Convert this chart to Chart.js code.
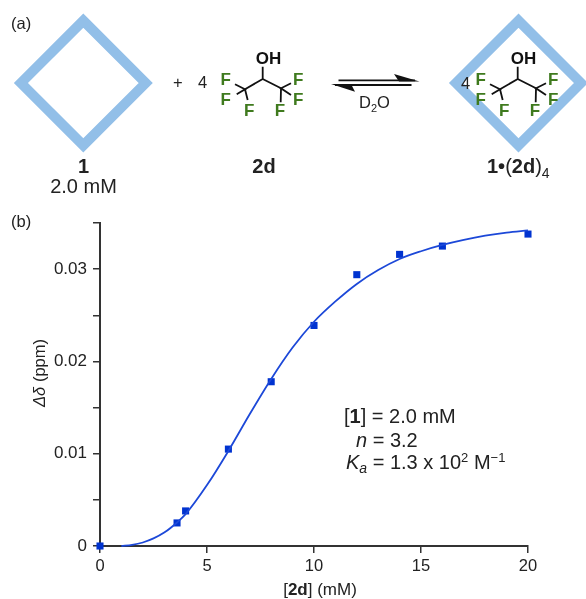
<!DOCTYPE html>
<html>
<head>
<meta charset="utf-8">
<title>Titration of 1 with 2d</title>
<script src="https://cdn.jsdelivr.net/npm/chart.js@4/dist/chart.umd.min.js"></script>
<style>
  html, body { margin: 0; padding: 0; background: #fff; }
  #wrap { position: relative; width: 586px; height: 599px; overflow: hidden; }
  #titration { position: absolute; left: 0; top: 0; }
  #scheme { position: absolute; left: 0; top: 0; pointer-events: none; }
  svg text { font-family: "Liberation Sans", Arial, sans-serif; font-size: 20px; fill: #222; }
  svg .small { font-size: 16.5px; }
  svg .b { font-weight: bold; }
  svg .i { font-style: italic; }
  svg .f { font-size: 17px; font-weight: bold; fill: #3f7a1e; text-anchor: middle; }
  svg .oh { font-size: 17px; font-weight: bold; fill: #111; text-anchor: middle; }
  svg .bond { stroke: #111; stroke-width: 1.8; fill: none; }
  svg .ring { stroke: #92bfe8; stroke-width: 10; fill: none; stroke-linejoin: miter; }
</style>
</head>
<body>
<div id="wrap">
  <canvas id="titration" width="586" height="599"></canvas>
  <svg id="scheme" width="586" height="599" viewBox="0 0 586 599">
    <defs>
      <g id="alcohol">
        <path class="bond" d="M262.7 66.7 V79 L245 89.3 M262.7 79 L281 88.3"/>
        <path class="bond" d="M235 84.3 L245 89.3 L236.7 94.3 M245 89.3 L247.7 100"/>
        <path class="bond" d="M291 83.3 L281 88.3 L291 95 M281 88.3 L280.7 102.3"/>
        <text class="oh" x="268.5" y="63.5">OH</text>
        <text class="f" x="225.7" y="84.5">F</text>
        <text class="f" x="225.7" y="105">F</text>
        <text class="f" x="249.3" y="115.5">F</text>
        <text class="f" x="298.3" y="84.5">F</text>
        <text class="f" x="298.3" y="105">F</text>
        <text class="f" x="280" y="115.5">F</text>
      </g>
    </defs>

    <text class="small" x="11" y="29">(a)</text>
    <polygon class="ring" points="83.3,20.6 145.7,83 83.3,145.4 20.9,83"/>
    <text class="small" x="173" y="88">+</text>
    <text class="small" x="198" y="88">4</text>
    <use href="#alcohol"/>

    <!-- equilibrium arrows -->
    <path class="bond" d="M338.5 80.3 H415"/>
    <polygon points="394,74 419.5,81.5 399,81.5" fill="#111"/>
    <path class="bond" d="M335 85 H411.5"/>
    <polygon points="331,84 351,84 355,91.7" fill="#111"/>
    <text class="small" x="359" y="108">D<tspan font-size="11" dy="4">2</tspan><tspan dy="-4">O</tspan></text>

    <polygon class="ring" points="518.5,20.6 581,83 518.5,145.4 456,83"/>
    <text class="small" x="461" y="89">4</text>
    <use href="#alcohol" x="255"/>

    <text class="b" x="83.5" y="173" text-anchor="middle">1</text>
    <text x="83.5" y="193" text-anchor="middle">2.0 mM</text>
    <text class="b" x="264" y="173" text-anchor="middle">2d</text>
    <text x="487" y="173"><tspan class="b">1•</tspan>(<tspan class="b">2d</tspan>)<tspan font-size="14" dy="5">4</tspan></text>

    <text class="small" x="11" y="227">(b)</text>

    <text x="344" y="423">[<tspan class="b">1</tspan>] = 2.0 mM</text>
    <text x="356" y="447"><tspan class="i">n</tspan> = 3.2</text>
    <text x="346" y="469"><tspan class="i">K</tspan><tspan class="i" font-size="14" dy="4">a</tspan><tspan dy="-4"> = 1.3 x 10</tspan><tspan font-size="13" dy="-7">2</tspan><tspan dy="7"> M</tspan><tspan font-size="13" dy="-7">−1</tspan></text>

    <text style="font-size:17px" x="320" y="595" text-anchor="middle">[<tspan class="b">2d</tspan>] (mM)</text>
    <text class="small" transform="translate(45 373) rotate(-90)" text-anchor="middle"><tspan class="i">Δδ</tspan> (ppm)</text>
  </svg>
</div>
<script>
// measured points
const concentration = [0, 3.6, 4, 6, 8, 10, 12, 14, 16, 20];
const shift = [0, 0.0025, 0.0038, 0.0105, 0.0178, 0.0239, 0.0294, 0.0316, 0.0325, 0.0338];

// fitted curve
const fitConcentration = [1, 1.5, 2, 2.5, 3, 3.6, 4, 5, 6, 7, 8, 9, 10, 11, 12, 13, 14, 15, 16, 17, 18, 19, 20];
const fitShift = [0, 0.00012, 0.00038, 0.00082, 0.00145, 0.00255, 0.00345, 0.0066, 0.0103, 0.0143, 0.0181, 0.0215, 0.0243, 0.0265, 0.0284, 0.0299, 0.0311, 0.03194, 0.03262, 0.03317, 0.03362, 0.03396, 0.0342];

const yTickLabels = ["0", "0.01", "0.02", "0.03"];

function toXY(xs, ys) {
  return xs.map((x, i) => ({ x: x, y: ys[i] }));
}

const axisColor = "#333";

new Chart(document.getElementById("titration").getContext("2d"), {
  type: "scatter",
  data: {
    datasets: [
      {
        label: "fit",
        data: toXY(fitConcentration, fitShift),
        showLine: true,
        cubicInterpolationMode: "monotone",
        borderColor: "#1c48d8",
        borderWidth: 1.8,
        pointRadius: 0,
        clip: false
      },
      {
        label: "1 + 2d",
        data: toXY(concentration, shift),
        showLine: false,
        pointStyle: "rect",
        pointRadius: 5,
        pointHoverRadius: 5,
        backgroundColor: "#0033d0",
        borderWidth: 0,
        clip: false
      }
    ]
  },
  options: {
    responsive: false,
    animation: false,
    layout: { padding: { left: 0, top: 223, right: 58, bottom: 0 } },
    plugins: {
      legend: { display: false },
      tooltip: { enabled: false }
    },
    scales: {
      x: {
        type: "linear",
        min: 0,
        max: 20,
        afterFit: function (scale) { scale.height = 53; },
        border: { color: axisColor, width: 2 },
        grid: { drawOnChartArea: false, color: axisColor, lineWidth: 1.5, tickLength: 7 },
        ticks: { stepSize: 5, color: "#222", font: { family: "'Liberation Sans', Arial, sans-serif", size: 16.5 }, padding: 4, maxRotation: 0 }
      },
      y: {
        type: "linear",
        min: 0,
        max: 0.035,
        afterFit: function (scale) { scale.width = 100; },
        border: { color: axisColor, width: 2 },
        grid: { drawOnChartArea: false, color: axisColor, lineWidth: 1.5, tickLength: 7 },
        ticks: {
          stepSize: 0.005,
          color: "#222",
          font: { family: "'Liberation Sans', Arial, sans-serif", size: 17 },
          padding: 6,
          // only every second tick carries a label
          callback: function (value, index) {
            return index % 2 === 0 && index / 2 < yTickLabels.length ? yTickLabels[index / 2] : "";
          }
        }
      }
    }
  }
});
</script>
</body>
</html>
